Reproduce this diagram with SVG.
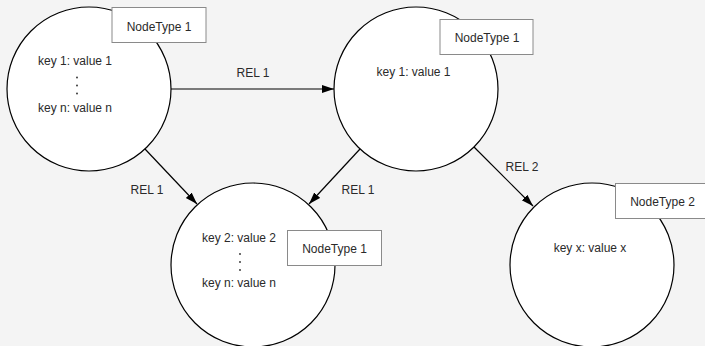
<svg xmlns="http://www.w3.org/2000/svg" width="705" height="346" viewBox="0 0 705 346">
<defs>
<style>
.node{fill:#fff;stroke:#000;stroke-width:1.2}
.lbl{fill:#fff;stroke:#8a8a8a;stroke-width:1}
text{font-family:"Liberation Sans",Arial,sans-serif;font-size:12px;fill:#2a2a2a;text-anchor:middle}
.kv{font-size:12px}
.edge{stroke:#000;stroke-width:1.2;fill:none;marker-end:url(#arr)}
.dot{fill:#2a2a2a}
</style>
<marker id="arr" markerUnits="userSpaceOnUse" markerWidth="13" markerHeight="9" refX="12" refY="4" orient="auto">
<path d="M0,0 L12,4 L0,8 z" fill="#000"/>
</marker>
</defs>
<rect width="705" height="346" fill="#f4f4f4"/>
<g id="connectors">
<line class="edge" x1="171" y1="89" x2="334" y2="89"/>
<line class="edge" x1="145" y1="149" x2="197" y2="204"/>
<line class="edge" x1="360" y1="149" x2="309" y2="204"/>
<line class="edge" x1="474" y1="147" x2="533" y2="206"/>
<text x="253" y="77">REL 1</text>
<text x="147" y="194">REL 1</text>
<text x="358" y="194">REL 1</text>
<text x="522" y="171">REL 2</text>
</g>
<g id="n1">
<circle class="node" cx="89" cy="89" r="82"/>
<text class="kv" x="75" y="65">key 1: value 1</text>
<circle class="dot" cx="77" cy="77.5" r="0.9"/>
<circle class="dot" cx="77" cy="85.5" r="0.9"/>
<circle class="dot" cx="77" cy="93.5" r="0.9"/>
<text class="kv" x="75" y="111.5">key n: value n</text>
<rect class="lbl" x="112" y="7.5" width="94" height="35"/>
<text x="159" y="31">NodeType 1</text>
</g>
<g id="n2">
<circle class="node" cx="416" cy="89" r="82"/>
<text class="kv" x="413.5" y="76">key 1: value 1</text>
<rect class="lbl" x="440" y="19.5" width="93" height="35"/>
<text x="487" y="41.5">NodeType 1</text>
</g>
<g id="n3">
<circle class="node" cx="253" cy="265" r="82"/>
<text class="kv" x="239" y="241.5">key 2: value 2</text>
<circle class="dot" cx="240" cy="254" r="0.9"/>
<circle class="dot" cx="240" cy="262" r="0.9"/>
<circle class="dot" cx="240" cy="270" r="0.9"/>
<text class="kv" x="239" y="287">key n: value n</text>
<rect class="lbl" x="287.5" y="230.5" width="94" height="35"/>
<text x="334.5" y="252.5">NodeType 1</text>
</g>
<g id="n4">
<circle class="node" cx="592" cy="265" r="82"/>
<text class="kv" x="590" y="251.5">key x: value x</text>
<rect class="lbl" x="615.5" y="183.5" width="94" height="35"/>
<text x="662.5" y="205.5">NodeType 2</text>
</g>
</svg>
